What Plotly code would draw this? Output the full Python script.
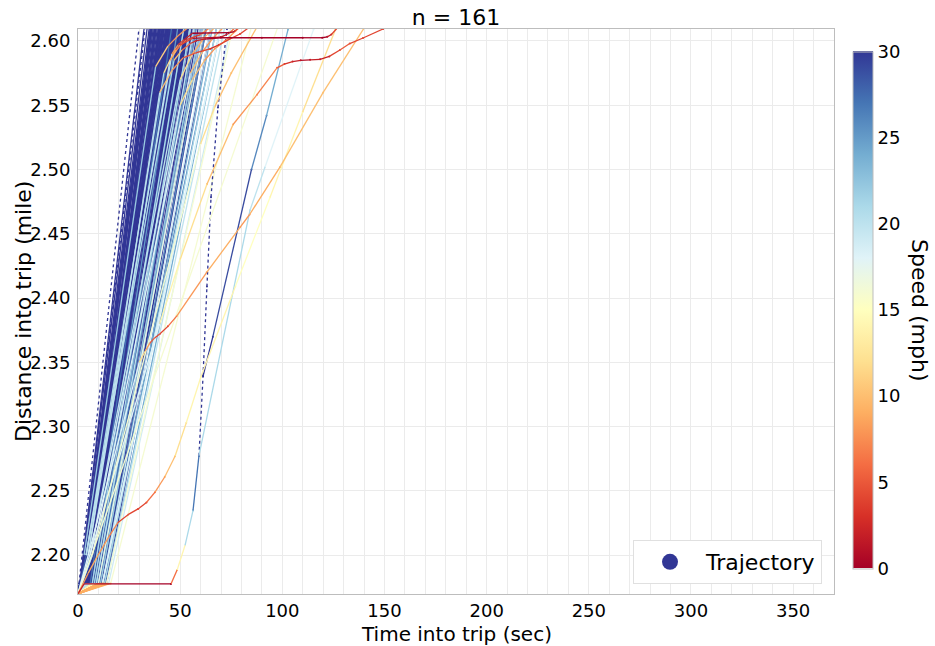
import plotly.graph_objects as go
from plotly.colors import sample_colorscale

# ---------------- data ----------------
SPEED_MIN, SPEED_MAX = 0, 30
fan_dist = [2.17, 2.178, 2.612]   # distance levels of the main fan: start, end of slow start, top

# time (s) at the end of the slow start of each fan trajectory
fan_ta = [0.5, 1.0, 1.0, 1.5, 2.0, 1.5, 2.5, 2.0, 3.0, 2.5,
          3.5, 3.0, 4.0, 3.5, 4.5, 4.0, 5.0, 4.5, 5.5, 5.0,
          6.0, 5.5, 6.5, 6.0, 7.0, 6.5, 7.5, 7.0, 8.0, 7.5,
          8.5, 8.0, 9.0, 8.5, 9.5, 9.0, 10.0, 9.5, 10.5, 10.0,
          11.0, 10.5, 11.5, 11.0, 12.0, 12.5, 13.0, 3.0, 4.0, 5.0,
          6.0, 7.0, 8.0, 9.0, 10.0, 11.0, 2.0, 3.2, 4.2, 5.2,
          6.2, 7.2, 8.2, 9.2, 2.8, 4.8, 6.8, 8.8, 12.0, 13.5,
          1.2, 2.2, 3.3, 4.3, 5.3, 6.3, 7.3, 8.3, 9.3, 10.3,
          11.3, 12.3, 5.8, 7.8, 9.8, 13.0, 14.0, 12.5,
          6, 7, 8, 9, 10, 11, 12, 13, 9, 12, 14, 10,
          7, 9, 11, 12, 13, 14, 10, 15, 8, 12,
          10, 14, 12, 16]
# time (s) when each fan trajectory leaves the top of the window
fan_tend = [30, 32.5, 34, 35, 35.5, 36, 36.5, 37, 37.5, 38,
            38.5, 39, 39.5, 40, 40.5, 41, 41.5, 42, 42.5, 43,
            43.5, 44, 44.5, 45, 45.5, 46, 46.5, 47, 47.5, 48,
            48.5, 49, 49.5, 50, 50.5, 51, 51.5, 52, 52.5, 53,
            53.5, 54, 55, 56, 57, 58, 60, 38.2, 40.3, 42.2,
            44.3, 46.2, 48.3, 50.2, 52.2, 54.3, 36.2, 41.3, 43.3, 45.3,
            47.3, 49.3, 51.3, 53.3, 39.8, 44.8, 48.8, 52.8, 59, 62,
            33, 35.8, 37.8, 39.8, 41.8, 43.8, 45.8, 47.8, 49.8, 51.8,
            53.8, 56, 40.5, 44, 47, 63, 65, 61,
            46, 49, 52, 55, 57, 60, 63, 66, 58, 68, 70, 62,
            52, 57, 61, 65, 68, 72, 60, 75, 55, 70,
            62, 76, 70, 85]
# speed (mph) during the slow start
fan_vstart = [30, 30, 30, 30, 25, 30, 25, 25, 25, 25,
              25, 25, 20, 25, 20, 20, 20, 20, 20, 20,
              20, 20, 20, 20, 14, 20, 14, 14, 14, 14,
              14, 14, 14, 14, 14, 14, 9, 14, 9, 9,
              9, 9, 9, 9, 9, 9, 9, 25, 20, 20,
              20, 14, 14, 14, 9, 9, 25, 25, 20, 20,
              20, 14, 14, 14, 25, 20, 20, 14, 9, 9,
              30, 25, 25, 20, 20, 20, 14, 14, 14, 9,
              9, 9, 20, 14, 14, 9, 9, 9,
              20, 14, 14, 14, 9, 9, 9, 9, 14, 9, 9, 9,
              14, 14, 9, 9, 9, 9, 9, 9, 14, 9,
              9, 9, 9, 9]
# speed (mph) for the rest of each fan trajectory
fan_speed = [30] * 88 + \
            [27, 25, 26, 24, 27, 25, 26, 24, 25, 27, 24, 26] + \
            [21, 20, 22, 19, 21, 20, 22, 19, 21, 20] + \
            [17, 16, 17.5, 15.5]
fan_dotted = [0, 70]   # fan trajectories recorded with sparse points

# individual trajectories: time (s), distance (mile), speed (mph)
stop_time = [0, 3, 45.5, 48.5, 52.4, 56.3, 59.2]
stop_dist = [2.170, 2.1776, 2.1776, 2.1884, 2.2077, 2.2348, 2.2774]
stop_speed = [3, 0, 0, 11, 18, 24, 30]

jump_time = [59.2, 61.2, 63.1, 65.1, 68.5, 72.9]          # sparse (dotted) part of the same trip
jump_dist = [2.2774, 2.3393, 2.4089, 2.4785, 2.5482, 2.6093]
jump_speed = [30, 30, 30, 30, 30, 30]

bump_time = [0, 5, 9.8, 15, 19.6, 24.5, 29.4, 33.5, 37.7, 42.5, 47.5, 53, 60.2, 77, 94, 110, 126]
bump_dist = [2.170, 2.186, 2.200, 2.214, 2.2255, 2.2315, 2.236, 2.241, 2.249, 2.261, 2.277, 2.303, 2.339, 2.409, 2.4785, 2.545, 2.609]
bump_speed = [8, 9, 9, 8, 6, 3, 4, 5, 7, 9, 11, 13, 14, 15, 15, 13, 11]

slow_time = [0, 97.6]
slow_dist = [2.17, 2.61]
slow_speed = [16, 16]

blue_time = [61.2, 66, 84.9, 92.3, 102.8]
blue_dist = [2.3393, 2.37, 2.50, 2.542, 2.609]
blue_speed = [30, 30, 28, 25, 23]

light_time = [59.2, 84.2, 91.5, 115.3]
light_dist = [2.2774, 2.4685, 2.5017, 2.609]
light_speed = [22, 20, 19, 18]

o2_time = [0, 30, 33, 35.2, 37.5, 40, 44, 48.3, 63, 79.3, 84, 98.9, 120, 140]
o2_dist = [2.17, 2.35, 2.359, 2.365, 2.369, 2.372, 2.378, 2.386, 2.42, 2.455, 2.465, 2.502, 2.56, 2.61]
o2_speed = [22, 15, 9, 6, 4, 4, 5, 6, 9, 9, 8, 10, 10, 9]

plat_time = [0, 40, 50, 63.1, 75.9, 87.6, 97.4, 101, 105, 109, 113.6, 118.5, 123, 128.2, 133, 139.5, 149.3]
plat_dist = [2.17, 2.38, 2.43, 2.4886, 2.535, 2.5582, 2.5791, 2.582, 2.584, 2.5849, 2.5853, 2.5857, 2.588, 2.593, 2.598, 2.6023, 2.6093]
plat_speed = [19, 16, 13, 10, 9, 8, 6, 4, 2, 1, 1, 2, 3, 5, 5, 4, 3]

r1_time = [0, 4, 47, 51, 55, 58, 62, 70, 90, 110, 119.5, 122, 124, 128]
r1_dist = [2.17, 2.20, 2.585, 2.593, 2.598, 2.6002, 2.6015, 2.6025, 2.6025, 2.6025, 2.6025, 2.6032, 2.605, 2.612]
r1_speed = [30, 30, 12, 8, 4, 2, 1, 0, 0, 0, 0, 1, 3, 6]

r2_time = [0, 4, 46, 49, 52, 56, 74, 76, 77, 80]
r2_dist = [2.17, 2.20, 2.59, 2.597, 2.601, 2.606, 2.6065, 2.607, 2.608, 2.612]
r2_speed = [30, 30, 10, 6, 3, 1, 0, 1, 3, 6]

r3_time = [0, 5, 40, 46, 51.4, 58, 64.6, 69, 74.4, 79.3, 85]
r3_dist = [2.17, 2.20, 2.56, 2.577, 2.5868, 2.591, 2.5938, 2.597, 2.6016, 2.6054, 2.612]
r3_speed = [28, 28, 12, 9, 6, 4, 3, 3, 4, 4, 5]

o3_time = [0, 6, 50, 56, 62, 67, 72, 80]
o3_dist = [2.17, 2.20, 2.55, 2.57, 2.585, 2.594, 2.60, 2.612]
o3_speed = [24, 24, 14, 11, 9, 8, 7, 8]

o4_time = [0, 7, 60, 67, 75, 88]
o4_dist = [2.17, 2.20, 2.52, 2.549, 2.575, 2.612]
o4_speed = [20, 20, 13, 11, 10, 9]

sa_time = [0, 4, 42, 45, 48, 53, 60, 66]
sa_dist = [2.17, 2.20, 2.575, 2.585, 2.593, 2.601, 2.605, 2.612]
sa_speed = [28, 28, 14, 10, 8, 4, 5, 9]

sb_time = [0, 5, 45, 50, 56, 70, 74, 78]
sb_dist = [2.17, 2.20, 2.585, 2.597, 2.602, 2.603, 2.606, 2.612]
sb_speed = [27, 27, 12, 6, 2, 0, 4, 8]

sc_time = [0, 6, 50, 56, 62, 68]
sc_dist = [2.17, 2.20, 2.57, 2.59, 2.603, 2.612]
sc_speed = [26, 26, 15, 10, 8, 10]

sd_time = [0, 3, 38, 44, 49, 55]
sd_dist = [2.17, 2.20, 2.58, 2.596, 2.604, 2.612]
sd_speed = [30, 30, 13, 9, 7, 10]

se_time = [0, 7, 55, 61, 66, 72]
se_dist = [2.17, 2.20, 2.575, 2.592, 2.602, 2.612]
se_speed = [24, 24, 12, 9, 7, 9]

x_ticks = [0, 50, 100, 150, 200, 250, 300, 350]
y_ticks = [2.20, 2.25, 2.30, 2.35, 2.40, 2.45, 2.50, 2.55, 2.60]
cbar_ticks = [0, 5, 10, 15, 20, 25, 30]

# ---------------- build figure ----------------
FONT = "DejaVu Sans"
SCALE = "RdYlBu"
W, H = 935, 646
L, R, T, B = 78, 834, 29, 594          # plot-area edges in pixels
PW, PH = R - L, B - T


def col(v):
    v = min(max(v, SPEED_MIN), SPEED_MAX)
    return sample_colorscale(SCALE, [(v - SPEED_MIN) / (SPEED_MAX - SPEED_MIN)])[0]


def fx(px):
    return (px - L) / PW


def fy(py):
    return (B - py) / PH


trajs = []   # (times, dists, speeds, dotted, layer)
for i, (ta, te, v0, v) in enumerate(zip(fan_ta, fan_tend, fan_vstart, fan_speed)):
    trajs.append(([0, ta, te], fan_dist, [v0, v0, v], i in fan_dotted, "fan"))
for ts, ds, vs, dot in [
    (stop_time, stop_dist, stop_speed, False), (jump_time, jump_dist, jump_speed, True),
    (bump_time, bump_dist, bump_speed, False), (slow_time, slow_dist, slow_speed, False),
    (blue_time, blue_dist, blue_speed, False), (light_time, light_dist, light_speed, False),
    (o2_time, o2_dist, o2_speed, False), (plat_time, plat_dist, plat_speed, False),
    (r1_time, r1_dist, r1_speed, False), (r2_time, r2_dist, r2_speed, False),
    (r3_time, r3_dist, r3_speed, False), (o3_time, o3_dist, o3_speed, False),
    (o4_time, o4_dist, o4_speed, False), (sa_time, sa_dist, sa_speed, False),
    (sb_time, sb_dist, sb_speed, False), (sc_time, sc_dist, sc_speed, False),
    (sd_time, sd_dist, sd_speed, False), (se_time, se_dist, se_speed, False)]:
    trajs.append((ts, ds, vs, dot, "spec"))

groups = {}
for ts, ds, vs, dot, layer in trajs:
    for i in range(len(ts) - 1):
        # fan: each piece takes the speed recorded at its end; others: mean of both ends
        v = vs[i + 1] if layer == "fan" else (vs[i] + vs[i + 1]) / 2
        key = (layer, dot, round(v))
        g = groups.setdefault(key, ([], []))
        g[0].extend([ts[i], ts[i + 1], None])
        g[1].extend([ds[i], ds[i + 1], None])

fig = go.Figure()

# all recorded points, coloured by speed (this trace carries the colour bar)
px_, py_, pv_ = [], [], []
for ts, ds, vs, dot, layer in trajs:
    px_ += list(ts); py_ += list(ds); pv_ += list(vs)
fig.add_trace(go.Scatter(
    x=px_, y=py_, mode="markers", showlegend=False, hoverinfo="skip",
    marker=dict(size=2, color=pv_, colorscale=SCALE, cmin=SPEED_MIN, cmax=SPEED_MAX,
                showscale=True,
                colorbar=dict(thickness=20, len=517 / PH, lenmode="fraction",
                              y=fy(310), yanchor="middle", x=fx(853), xanchor="left",
                              xpad=0, ypad=0,
                              outlinecolor="#bdbdbd", outlinewidth=1,
                              tickvals=cbar_ticks, ticks="",
                              tickfont=dict(family=FONT, size=18, color="black"))),
))

order = sorted(groups, key=lambda k: (0 if k[0] == "fan" else 1, -k[2]))
for key in order:
    layer, dot, v = key
    xs, ys = groups[key]
    fig.add_trace(go.Scatter(x=xs, y=ys, mode="lines", showlegend=False, hoverinfo="skip",
                             line=dict(color=col(v), width=1.3,
                                       dash="dot" if dot else "solid")))

# legend entry
fig.add_trace(go.Scatter(x=[None], y=[None], mode="markers", name="Trajectory",
                         marker=dict(size=16, color=col(SPEED_MAX))))

grid = "#ebebeb"
axis_common = dict(showline=True, linecolor="#bdbdbd", linewidth=1, mirror=True,
                   zeroline=False, showgrid=True, gridcolor=grid, gridwidth=1,
                   ticks="",
                   tickfont=dict(family=FONT, size=18, color="black"))

fig.update_layout(
    width=W, height=H,
    margin=dict(l=L, r=W - R, t=T, b=H - B),
    paper_bgcolor="white", plot_bgcolor="white",
    font=dict(family=FONT, color="black"),
    title=dict(text="n = 161", x=0.5, xref="paper", xanchor="center",
               y=1 - 17 / H, yref="container", yanchor="middle",
               font=dict(family=FONT, size=22, color="black")),
    xaxis=dict(range=[0, 370], tickvals=x_ticks,
               minor=dict(dtick=10, tick0=0, showgrid=True, gridcolor=grid),
               **axis_common),
    yaxis=dict(range=[2.1698, 2.6093], tickvals=y_ticks, tickformat=".2f",
               ticklabelstandoff=3, **axis_common),
    legend=dict(x=fx(822), y=fy(584), xanchor="right", yanchor="bottom",
                bgcolor="white", bordercolor="#e0e0e0", borderwidth=1,
                itemwidth=62,
                font=dict(family=FONT, size=22, color="black")),
    annotations=[
        dict(text="Time into trip (sec)", x=0.5, y=fy(634), xref="paper", yref="paper",
             xanchor="center", yanchor="middle", showarrow=False, borderpad=0,
             font=dict(family=FONT, size=20, color="black")),
        dict(text="Distance into trip (mile)", x=fx(23), y=fy(312),
             xref="paper", yref="paper",
             xanchor="center", yanchor="middle", showarrow=False, textangle=-90,
             font=dict(family=FONT, size=22, color="black")),
        dict(text="Speed (mph)", x=fx(920), y=fy(310), xref="paper", yref="paper",
             xanchor="center", yanchor="middle", showarrow=False, textangle=90,
             font=dict(family=FONT, size=22, color="black")),
    ],
)

fig.write_html("out.html")
